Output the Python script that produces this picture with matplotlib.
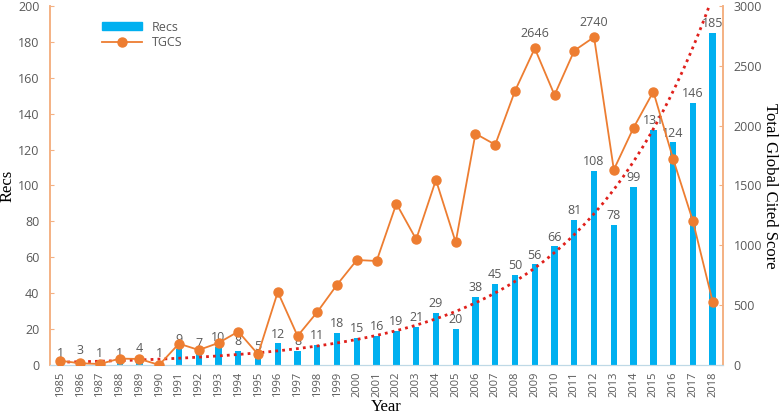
import numpy as np
import matplotlib
matplotlib.use('Agg')
import matplotlib.pyplot as plt
from matplotlib.patches import Patch
from matplotlib.lines import Line2D

years = list(range(1985, 2019))
recs = [1, 3, 1, 1, 4, 1, 9, 7, 10, 8, 5, 12, 8, 11, 18, 15, 16, 19, 21, 29,
        20, 38, 45, 50, 56, 66, 81, 108, 78, 99, 131, 124, 146, 185]
tgcs = [35, 14, 8, 53, 50, 0, 178, 125, 184, 279, 89, 610, 242, 443, 671, 877,
        869, 1348, 1050, 1546, 1025, 1933, 1841, 2290, 2646, 2256, 2627, 2740,
        1632, 1983, 2284, 1722, 1203, 529]
tgcs_labelled = [2646, 2740]

bar_col = '#00B0F0'
line_col = '#ED7D31'
spine_col = '#F4B183'
txt_col = '#595959'
sans = ['Open Sans', 'DejaVu Sans']
serif = 'Liberation Serif'

x = np.arange(len(years))

fig = plt.figure(figsize=(7.84, 4.19), dpi=100)
ax = fig.add_axes([0.0644, 0.129, 0.8572, 0.8567])
ax2 = ax.twinx()

ax.bar(x, recs, width=0.32, color=bar_col, zorder=2)
for xi, v in zip(x, recs):
    ax.annotate(str(v), (xi, v), xytext=(0, 2), textcoords='offset points',
                ha='center', va='bottom', fontsize=9, color=txt_col, family=sans)

# exponential trendline of Recs (least squares on log values, like Excel)
b, a = np.polyfit(x + 1, np.log(recs), 1)
xt = np.linspace(0, len(years) - 0.5, 300)
ax.plot(xt, np.exp(a + b * (xt + 1)), color='#E0201B', linestyle=(0, (1, 1.5)),
        linewidth=2, zorder=3)

ax2.plot(x, tgcs, color=line_col, linewidth=1.3, marker='o', markersize=6.5, zorder=4)
for xi, v in zip(x, tgcs):
    if v in tgcs_labelled:
        ax2.annotate(str(v), (xi, v), xytext=(0, 6), textcoords='offset points',
                     ha='center', va='bottom', fontsize=9, color=txt_col, family=sans)

ax.set_xlim(-0.5, len(years) - 0.5)
ax.set_ylim(0, 200)
ax2.set_ylim(0, 3000)
ax.set_yticks(range(0, 201, 20))
ax2.set_yticks(range(0, 3001, 500))
ax.set_xticks(x)
ax.set_xticklabels([str(y) for y in years], rotation=90, family=sans, fontsize=8, color=txt_col)
for lab in ax.get_yticklabels():
    lab.set_family(sans)
for lab in ax2.get_yticklabels():
    lab.set_family(sans)
ax.tick_params(axis='y', direction='in', length=3, color=spine_col, labelsize=9,
               labelcolor=txt_col, pad=8)
ax2.tick_params(axis='y', direction='in', length=3, color=spine_col, labelsize=9,
                labelcolor=txt_col, pad=8)
ax.tick_params(axis='x', length=0, pad=5)

for a_ in (ax, ax2):
    a_.spines['top'].set_visible(False)
    a_.spines['left'].set_color(spine_col)
    a_.spines['right'].set_color(spine_col)
    a_.spines['bottom'].set_color('#BFD9E6')
    a_.spines['left'].set_linewidth(1.2)
    a_.spines['right'].set_linewidth(1.2)

ax.set_xlabel('Year', family=serif, fontsize=12)
ax.xaxis.set_label_coords(0.5, -0.095)
ax.set_ylabel('Recs', family=serif, fontsize=12)
ax.yaxis.set_label_coords(-0.052, 0.5)
ax2.set_ylabel('Total Global Cited Score', family=serif, fontsize=12, rotation=270, va='bottom')
ax2.yaxis.set_label_coords(1.058, 0.5)

handles = [Patch(color=bar_col), Line2D([], [], color=line_col, marker='o', markersize=6.5, linewidth=1.3)]
leg = ax.legend(handles, ['Recs', 'TGCS'], loc='upper left', bbox_to_anchor=(0.06, 0.99),
                frameon=False, handlelength=3.2, handleheight=0.6,
                labelspacing=0.2, prop={'family': sans, 'size': 9})
for t in leg.get_texts():
    t.set_color(txt_col)

fig.savefig('out.png', dpi=100)
